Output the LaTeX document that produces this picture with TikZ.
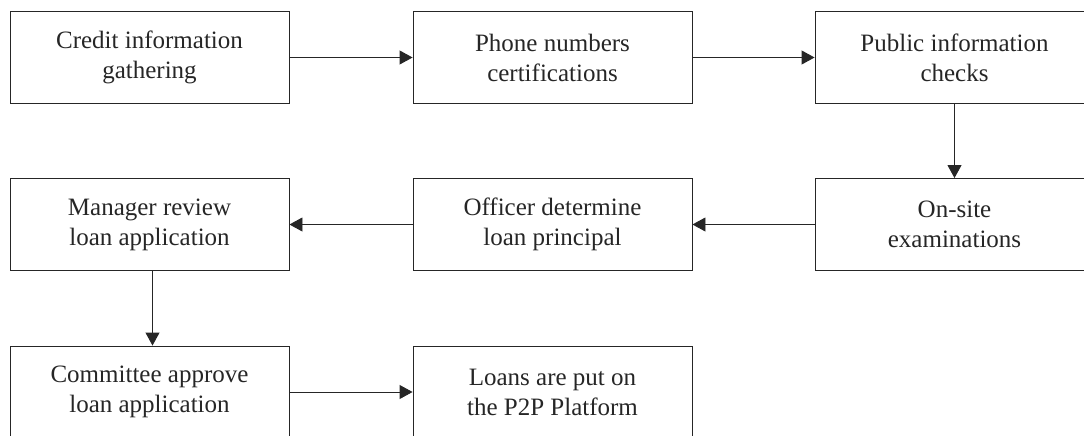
\documentclass[tikz,border=0pt]{standalone}
\usepackage{fontspec}
\setmainfont{Liberation Serif}
\usetikzlibrary{arrows.meta}
\definecolor{ink}{HTML}{262626}
\begin{document}
\begin{tikzpicture}[x=1pt,y=-1pt,
  stepbox/.style={draw=ink, line width=0.9pt, rectangle, minimum width=279pt,
    minimum height=92pt, align=center, text=ink, inner sep=0pt,
    font=\fontsize{25}{30}\selectfont},
  flow/.style={draw=ink, line width=0.9pt, -{Triangle[length=13pt,width=14pt]}}]
\useasboundingbox (0,0) rectangle (1084,436);
\clip (0,0) rectangle (1084,436);
% first row
\node[stepbox] (credit) at (149.5,57.5) {Credit information\\gathering};
\node[stepbox] (phone)  at (552.5,57.5) {Phone numbers\\certifications};
\node[stepbox] (public) at (954.5,57.5) {Public information\\checks};
% second row
\node[stepbox] (manager) at (149.5,224.5) {Manager review\\loan application};
\node[stepbox] (officer) at (552.5,224.5) {Officer determine\\loan principal};
\node[stepbox] (onsite)  at (954.5,224.5) {On-site\\examinations};
% third row
\node[stepbox] (committee) at (149.5,392) {Committee approve\\loan application};
\node[stepbox] (loans)     at (552.5,392) {Loans are put on\\the P2P Platform};
% connectors
\draw[flow] (credit) -- (phone);
\draw[flow] (phone) -- (public);
\draw[flow] (public) -- (onsite);
\draw[flow] (onsite) -- (officer);
\draw[flow] (officer) -- (manager);
\draw[flow] ([xshift=3pt]manager.south) -- ([xshift=3pt]committee.north);
\draw[flow] (committee) -- (loans);
\end{tikzpicture}
\end{document}
